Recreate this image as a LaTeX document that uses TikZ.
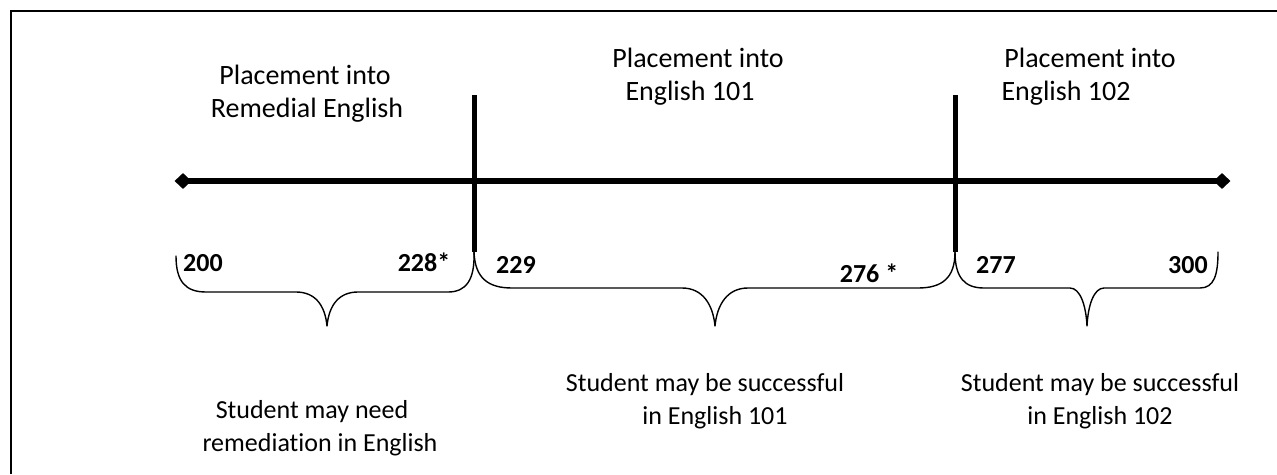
\documentclass[tikz,border=0pt]{standalone}
\usepackage{fontspec}
\setmainfont{Carlito}[Ligatures=NoCommon, RawFeature=-liga]
\usetikzlibrary{shapes.geometric}
\begin{document}
\begin{tikzpicture}[x=1pt,y=-1pt,
  frame/.style={line width=2pt},
  axisline/.style={line width=5.5pt},
  divider/.style={line width=5pt},
  bracepath/.style={line width=1.4pt, line join=round, line cap=round},
  endmark/.style={diamond, fill=black, inner sep=0pt, minimum width=17pt, minimum height=16pt},
  heading/.style={font=\fontsize{28}{33}\selectfont, anchor=base, inner sep=0pt},
  score/.style={font=\fontsize{26}{30}\selectfont\bfseries, anchor=base, inner sep=0pt},
  remark/.style={font=\fontsize{26}{31}\selectfont, anchor=base, inner sep=0pt}]
\useasboundingbox (0,0) rectangle (1277,474);
\fill[white] (0,0) rectangle (1277,474);

% outer frame (top and left edges)
\draw[frame] (11,474) -- (11,11) -- (1277,11);

% score axis with diamond ends
\node[endmark] (lo) at (183,181) {};
\node[endmark] (hi) at (1222,181) {};
\draw[axisline] (lo.center) -- (hi.center);

% cut-off dividers
\coordinate (d1top) at (474,95);
\coordinate (d1bot) at (474,252);
\coordinate (d2top) at (955,95);
\coordinate (d2bot) at (955,252);
\draw[divider] (d1top) -- (d1bot);
\draw[divider] (d2top) -- (d2bot);

% placement headings
\node[heading] (h1a) at (305,84) {Placement into};
\node[heading] (h1b) at (307,117) {Remedial English};
\node[heading] (h2a) at (698,67) {Placement into};
\node[heading] (h2b) at (690,100) {English 101};
\node[heading] (h3a) at (1090,67) {Placement into};
\node[heading] (h3b) at (1066,100) {English 102};

% score range ends
\node[score] (s200) at (203,271) {200};
\node[score] (s228) at (424,271) {228*};
\node[score] (s229) at (516,273) {229};
\node[score] (s276) at (869,282) {276 *};
\node[score] (s277) at (996,273) {277};
\node[score] (s300) at (1188,273) {300};

% braces under each range
\draw[bracepath] (176,256) .. controls (176,282) and (186,292) .. (206,292)
  -- (296,292) .. controls (315,292) and (325,305) .. (327,326)
  .. controls (329,305) and (339,292) .. (358,292)
  -- (448,292) .. controls (466,292) and (475,280) .. (d1bot);
\draw[bracepath] (d1bot) .. controls (475,278) and (488,288) .. (512,288)
  -- (682,288) .. controls (703,288) and (713,305) .. (715,326)
  .. controls (717,305) and (727,288) .. (748,288)
  -- (918,288) .. controls (942,288) and (955,278) .. (d2bot);
\draw[bracepath] (d2bot) .. controls (955,278) and (965,288) .. (984,288)
  -- (1070,288) .. controls (1080,288) and (1086,305) .. (1087,326)
  .. controls (1088,305) and (1094,288) .. (1104,288)
  -- (1200,288) .. controls (1214,288) and (1218,275) .. (1218,252);

% range descriptions
\node[remark] (r1a) at (312,418) {Student may need};
\node[remark] (r1b) at (320,451) {remediation in English};
\node[remark] (r2a) at (705,391) {Student may be successful};
\node[remark] (r2b) at (715,424) {in English 101};
\node[remark] (r3a) at (1100,391) {Student may be successful};
\node[remark] (r3b) at (1100,424) {in English 102};
\end{tikzpicture}
\end{document}
